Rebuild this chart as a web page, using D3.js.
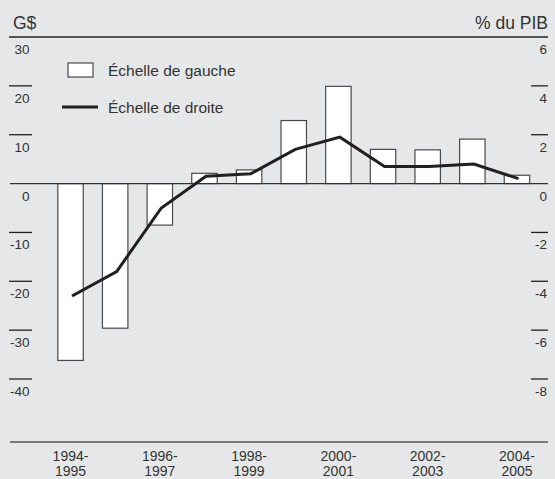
<!DOCTYPE html>
<html>
<head>
<meta charset="utf-8">
<script src="https://cdnjs.cloudflare.com/ajax/libs/d3/7.8.5/d3.min.js"></script>
<style>
  body { margin: 0; background: #e6e7e8; }
  text { font-family: "Liberation Sans", Arial, sans-serif; fill: #333; }
</style>
</head>
<body>
<script>
// data
var periods = ["1994-1995", "1995-1996", "1996-1997", "1997-1998", "1998-1999", "1999-2000",
  "2000-2001", "2001-2002", "2002-2003", "2003-2004", "2004-2005"];
var soldeGS = [-36.2, -29.6, -8.5, 2.1, 2.8, 12.9, 19.9, 7.0, 6.9, 9.1, 1.7];   // G$, échelle de gauche
var soldePIB = [-4.6, -3.6, -1.0, 0.3, 0.4, 1.4, 1.9, 0.7, 0.7, 0.8, 0.2];     // % du PIB, échelle de droite
var leftTicks = [30, 20, 10, 0, -10, -20, -30, -40];
var rightTicks = [6, 4, 2, 0, -2, -4, -6, -8];
var shownPeriods = ["1994-1995", "1996-1997", "1998-1999", "2000-2001", "2002-2003", "2004-2005"];

var svgWidth = 555;
var svgHeight = 479;

var svg = d3.select("body")
  .append("svg")
  .attr("width", svgWidth)
  .attr("height", svgHeight);

svg.append("rect")
  .attr("width", svgWidth)
  .attr("height", svgHeight)
  .attr("fill", "#e6e7e8");

var x = d3.scaleBand()
  .domain(periods)
  .range([48.2, 539.3])
  .paddingInner(0.43)
  .paddingOuter(0.215);

var yLeft = d3.scaleLinear().domain([-40, 30]).range([379, 37]);
var yRight = d3.scaleLinear().domain([-8, 6]).range([379, 37]);

// frame lines
svg.append("line")
  .attr("x1", 9).attr("x2", 548)
  .attr("y1", 37).attr("y2", 37)
  .attr("stroke", "#222").attr("stroke-width", 1.3);

svg.append("line")
  .attr("x1", 10).attr("x2", 548)
  .attr("y1", 442).attr("y2", 442)
  .attr("stroke", "#555").attr("stroke-width", 1.3);

// axis titles
svg.append("text")
  .attr("x", 13).attr("y", 29)
  .style("font-size", "17.5px")
  .text("G$");

svg.append("text")
  .attr("x", 548).attr("y", 29)
  .attr("text-anchor", "end")
  .style("font-size", "17.5px")
  .text("% du PIB");

// left scale: short ticks with labels underneath
svg.selectAll(".ltick")
  .data(leftTicks.filter(function(d) { return d !== 30 && d !== 0; }))
  .enter().append("line")
  .attr("class", "ltick")
  .attr("x1", 9).attr("x2", 32)
  .attr("y1", function(d) { return yLeft(d); })
  .attr("y2", function(d) { return yLeft(d); })
  .attr("stroke", "#222").attr("stroke-width", 1.3);

svg.selectAll(".llabel")
  .data(leftTicks)
  .enter().append("text")
  .attr("class", "llabel")
  .attr("x", 29.5)
  .attr("y", function(d) { return yLeft(d) + 17; })
  .attr("text-anchor", "end")
  .style("font-size", "13.5px")
  .text(function(d) { return d; });

// right scale
svg.selectAll(".rtick")
  .data(rightTicks.filter(function(d) { return d !== 6 && d !== 0; }))
  .enter().append("line")
  .attr("class", "rtick")
  .attr("x1", 531).attr("x2", 548)
  .attr("y1", function(d) { return yRight(d); })
  .attr("y2", function(d) { return yRight(d); })
  .attr("stroke", "#222").attr("stroke-width", 1.3);

svg.selectAll(".rlabel")
  .data(rightTicks)
  .enter().append("text")
  .attr("class", "rlabel")
  .attr("x", 547)
  .attr("y", function(d) { return yRight(d) + 17; })
  .attr("text-anchor", "end")
  .style("font-size", "13.5px")
  .text(function(d) { return d; });

// bars
svg.selectAll(".bar")
  .data(periods)
  .enter().append("rect")
  .attr("class", "bar")
  .attr("x", function(d) { return x(d); })
  .attr("width", x.bandwidth())
  .attr("y", function(d, i) { return Math.min(yLeft(soldeGS[i]), yLeft(0)); })
  .attr("height", function(d, i) { return Math.abs(yLeft(soldeGS[i]) - yLeft(0)); })
  .attr("fill", "#fff")
  .attr("stroke", "#4a4a4a")
  .attr("stroke-width", 1.2);

// zero line
svg.append("line")
  .attr("x1", 10).attr("x2", 548)
  .attr("y1", yLeft(0)).attr("y2", yLeft(0))
  .attr("stroke", "#333").attr("stroke-width", 1.3);

// line series
var line = d3.line()
  .x(function(d, i) { return x(periods[i]) + x.bandwidth() / 2 + 1.5; })
  .y(function(d) { return yRight(d); });

svg.append("path")
  .datum(soldePIB)
  .attr("d", line)
  .attr("fill", "none")
  .attr("stroke", "#231f20")
  .attr("stroke-width", 3)
  .attr("stroke-linejoin", "miter");

// x labels, two lines each
var xl = svg.selectAll(".xlabel")
  .data(shownPeriods)
  .enter().append("g")
  .attr("class", "xlabel");

xl.append("text")
  .attr("text-anchor", "middle")
  .style("font-size", "14px")
  .attr("x", function(d) { return x(d) + x.bandwidth() / 2; })
  .attr("y", 460.5)
  .text(function(d) { return d.split("-")[0] + "-"; });

xl.append("text")
  .attr("text-anchor", "middle")
  .style("font-size", "14px")
  .attr("x", function(d) { return x(d) + x.bandwidth() / 2; })
  .attr("y", 476)
  .text(function(d) { return d.split("-")[1]; });

// legend
svg.append("rect")
  .attr("x", 68).attr("y", 63)
  .attr("width", 25).attr("height", 14)
  .attr("fill", "#fff")
  .attr("stroke", "#4a4a4a").attr("stroke-width", 1.2);

svg.append("text")
  .attr("x", 108).attr("y", 75.5)
  .style("font-size", "15.5px")
  .text("Échelle de gauche");

svg.append("line")
  .attr("x1", 62).attr("x2", 98)
  .attr("y1", 107).attr("y2", 107)
  .attr("stroke", "#231f20").attr("stroke-width", 3);

svg.append("text")
  .attr("x", 108).attr("y", 112.5)
  .style("font-size", "15.5px")
  .text("Échelle de droite");
</script>
</body>
</html>
